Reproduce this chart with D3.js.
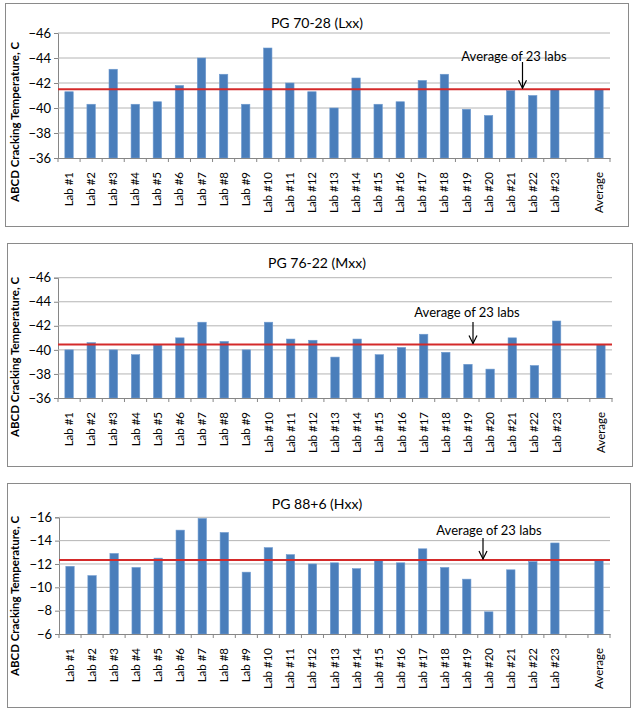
<!DOCTYPE html>
<html><head><meta charset="utf-8">
<script src="https://cdn.jsdelivr.net/npm/d3@7"></script>
<style>
body{margin:0;background:#fff;}
svg{display:block;font-family:Lato,"Open Sans",sans-serif;}
</style></head>
<body><svg id="c" width="637" height="715"></svg>
<script>
// ---- data ----
const labs = ["Lab #1","Lab #2","Lab #3","Lab #4","Lab #5","Lab #6","Lab #7","Lab #8","Lab #9","Lab #10","Lab #11","Lab #12","Lab #13","Lab #14","Lab #15","Lab #16","Lab #17","Lab #18","Lab #19","Lab #20","Lab #21","Lab #22","Lab #23"];
const categories = labs.concat(["", "Average"]);
const titles = ["PG 70-28 (Lxx)", "PG 76-22 (Mxx)", "PG 88+6 (Hxx)"];
const pg7028 = [-41.3,-40.3,-43.1,-40.3,-40.5,-41.8,-44.0,-42.7,-40.3,-44.8,-42.0,-41.3,-40.0,-42.4,-40.3,-40.5,-42.2,-42.7,-39.9,-39.4,-41.4,-41.0,-41.5];
const pg7622 = [-40.0,-40.6,-40.0,-39.6,-40.4,-41.0,-42.3,-40.7,-40.0,-42.3,-40.9,-40.8,-39.4,-40.9,-39.6,-40.2,-41.3,-39.8,-38.8,-38.4,-41.0,-38.7,-42.4];
const pg886  = [-11.8,-11.0,-12.9,-11.7,-12.5,-14.9,-15.9,-14.7,-11.3,-13.4,-12.8,-12.0,-12.1,-11.6,-12.3,-12.1,-13.3,-11.7,-10.7,-7.9,-11.5,-12.2,-13.8];
const averages = [-41.5, -40.45, -12.35];
const yTicksLow  = [-46,-44,-42,-40,-38,-36];
const yTicksHigh = [-16,-14,-12,-10,-8,-6];
const yTitle = "ABCD Cracking Temperature, C";
const annotation = "Average of 23 labs";

// ---- layout ----
const panels = [
  {series: pg7028, ticks: yTicksLow, box:[5,3,628,226], plot:[58,610,33,158], titleY:28, ann:{tx:514, ty:61, ax:522.5, ay1:62}, yTitleC:122},
  {series: pg7622, ticks: yTicksLow, box:[7,243,632,466], plot:[58,612,277.7,398], titleY:268, ann:{tx:467, ty:317, ax:473, ay1:322}, yTitleC:357},
  {series: pg886,  ticks: yTicksHigh, box:[7,483,630,707], plot:[59,610,517.3,634], titleY:509, ann:{tx:489, ty:535, ax:483, ay1:538}, yTitleC:596}
];

const svg = d3.select("#c");
const defs = svg.append("defs");
defs.append("marker").attr("id","arr").attr("viewBox","0 0 10 10").attr("refX",9).attr("refY",5)
  .attr("markerWidth",10).attr("markerHeight",10).attr("markerUnits","userSpaceOnUse").attr("orient","auto")
  .append("path").attr("d","M1,1 L9,5 L1,9").attr("fill","none").attr("stroke","#000").attr("stroke-width",1.2);

panels.forEach((p, i) => {
  const g = svg.append("g");
  const [bx0, by0, bx1, by1] = p.box;
  g.append("rect").attr("x",bx0+0.5).attr("y",by0+0.5).attr("width",bx1-bx0).attr("height",by1-by0)
    .attr("fill","#fff").attr("stroke","#8a8a8a").attr("stroke-width",1);

  const [L, R, T, B] = p.plot;
  const values = p.series.concat([null, averages[i]]);
  const x = d3.scaleBand().domain(categories).range([L, R]).paddingInner(0.62).paddingOuter(0.31);
  const y = d3.scaleLinear().domain([p.ticks[p.ticks.length-1], p.ticks[0]]).range([B, T]);

  // gridlines + y axis
  const ya = d3.axisLeft(y).tickValues(p.ticks).tickSize(4).tickFormat(d3.format("d"));
  const yg = g.append("g").attr("transform",`translate(${L},0)`).call(ya);
  yg.select(".domain").attr("stroke","#868686");
  yg.selectAll(".tick line").attr("stroke","#868686");
  yg.selectAll(".tick text").attr("font-size",13).attr("fill","#000").attr("x",-7).style("font-family","Lato");
  g.append("g").selectAll("line").data(p.ticks.slice(0,-1)).join("line")
    .attr("x1",L).attr("x2",R).attr("y1",d=>y(d)).attr("y2",d=>y(d))
    .attr("stroke","#b4b4b4").attr("stroke-width",1);

  // bars
  const data = categories.map((c, k) => ({c, v: values[k]})).filter(d => d.v !== null);
  g.append("g").selectAll("rect").data(data).join("rect")
    .attr("x", d => x(d.c)).attr("width", x.bandwidth())
    .attr("y", d => y(d.v)).attr("height", d => y(y.domain()[0]) - y(d.v))
    .attr("fill","#4a7ebb").attr("stroke","#6f9bd0").attr("stroke-width",0.6);

  // x axis
  const xa = d3.axisBottom(x).tickSize(0);
  const xg = g.append("g").attr("transform",`translate(0,${B})`).call(xa);
  xg.select(".domain").attr("stroke","#868686");
  xg.selectAll(".tick text").attr("transform","rotate(-90)").attr("text-anchor","end")
    .attr("x",-14).attr("y",0).attr("dy","0.35em").attr("font-size",11.5).attr("fill","#000").style("font-family","Lato");
  const bounds = d3.range(categories.length + 1).map(k => L + k * x.step());
  g.append("g").selectAll("line").data(bounds).join("line")
    .attr("x1",d=>d).attr("x2",d=>d).attr("y1",B).attr("y2",B+4).attr("stroke","#868686");

  // average line
  g.append("line").attr("x1",L).attr("x2",R).attr("y1",y(averages[i])).attr("y2",y(averages[i]))
    .attr("stroke","#d42a2a").attr("stroke-width",2);

  // title
  g.append("text").attr("x",317).attr("y",p.titleY).attr("text-anchor","middle")
    .attr("font-size",14).text(titles[i]);

  // y title
  g.append("text").attr("transform",`translate(19,${p.yTitleC}) rotate(-90)`).attr("text-anchor","middle")
    .attr("font-size",11.5).attr("font-weight","bold").text(yTitle);

  // annotation
  g.append("text").attr("x",p.ann.tx).attr("y",p.ann.ty).attr("text-anchor","middle")
    .attr("font-size",13).text(annotation);
  g.append("line").attr("x1",p.ann.ax).attr("x2",p.ann.ax).attr("y1",p.ann.ay1).attr("y2",y(averages[i]) - 1)
    .attr("stroke","#000").attr("stroke-width",1.2).attr("marker-end","url(#arr)");
});
</script></body></html>
